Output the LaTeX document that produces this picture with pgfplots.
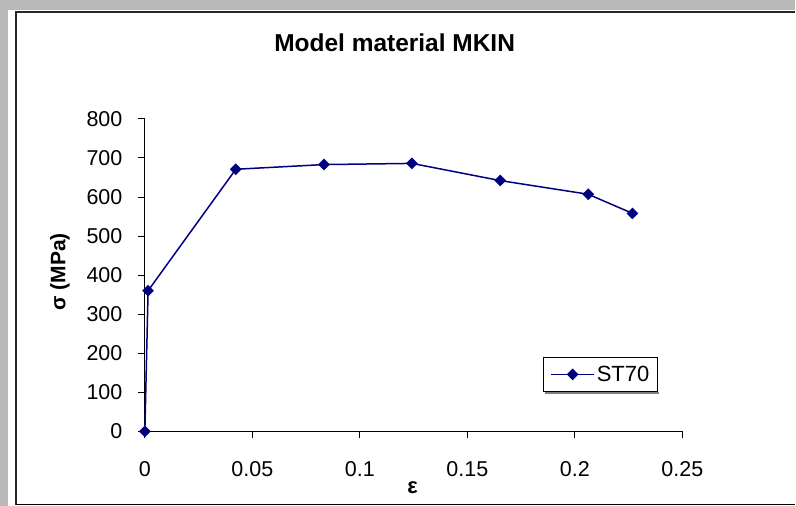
\documentclass[border=0pt]{standalone}
\usepackage{pgfplots}
\pgfplotsset{compat=1.18}
\usepackage{fontspec}
\setmainfont{Liberation Sans}
\definecolor{navy}{RGB}{0,0,128}
\definecolor{bggray}{RGB}{185,185,185}
\begin{document}
\begin{tikzpicture}[x=1bp,y=1bp]
\fill[bggray] (0,0) rectangle (796,506);
\fill[white] (8,0) rectangle (796,496);
\draw[line width=1.5bp, black!85] (16,1) -- (16,494) -- (796,494);
\draw[line width=1.5bp, black] (16,1) -- (796,1);
\fill[black!50] (546,111.5) rectangle (660,114);
\begin{axis}[
  at={(145bp,74.3bp)}, anchor=south west,
  scale only axis, width=538bp, height=312.7bp,
  xmin=0, xmax=0.25, ymin=0, ymax=800,
  axis lines=left, axis line style={-, line width=0.9bp, black},
  tick align=outside, major tick length=7bp,
  tick style={line width=0.9bp, black},
  xtick={0,0.05,0.1,0.15,0.2,0.25},
  xticklabels={0,0.05,0.1,0.15,0.2,0.25},
  ytick={0,100,200,300,400,500,600,700,800},
  yticklabels={0,100,200,300,400,500,600,700,800},
  scaled x ticks=false,
  ticklabel style={font=\fontsize{21.5bp}{24bp}\selectfont},
  xticklabel style={yshift=-20bp},
  yticklabel style={xshift=-12bp},
  clip=false,
  legend style={at={(0.7416,0.239)}, anchor=north west, draw=black, line width=0.8bp,
    fill=white,
    font=\fontsize{22bp}{24bp}\selectfont, inner xsep=6.5bp, inner ysep=7bp,
    cells={anchor=west}},
  legend image code/.code={\draw[mark repeat=2,mark phase=2] plot coordinates {(0bp,0bp) (21.5bp,0bp) (43bp,0bp)};},
]
\addplot[navy, line width=1.5bp, mark=square*, mark size=3.4bp, mark options={rotate=45, solid, fill=navy}] coordinates {
(0,0)
(0.0015,360)
(0.0423,671)
(0.0833,683)
(0.1242,686)
(0.1653,642)
(0.2062,607)
(0.2268,558)
};
\addlegendentry{ST70}
\end{axis}
\node[font=\bfseries\fontsize{24.5bp}{28bp}\selectfont] at (395,463) {Model material MKIN};
\node[font=\bfseries\fontsize{22bp}{26bp}\selectfont] at (413,18) {ε};
\node[font=\bfseries\fontsize{21bp}{26bp}\selectfont, rotate=90] at (60,234) {σ (MPa)};
\end{tikzpicture}
\end{document}
